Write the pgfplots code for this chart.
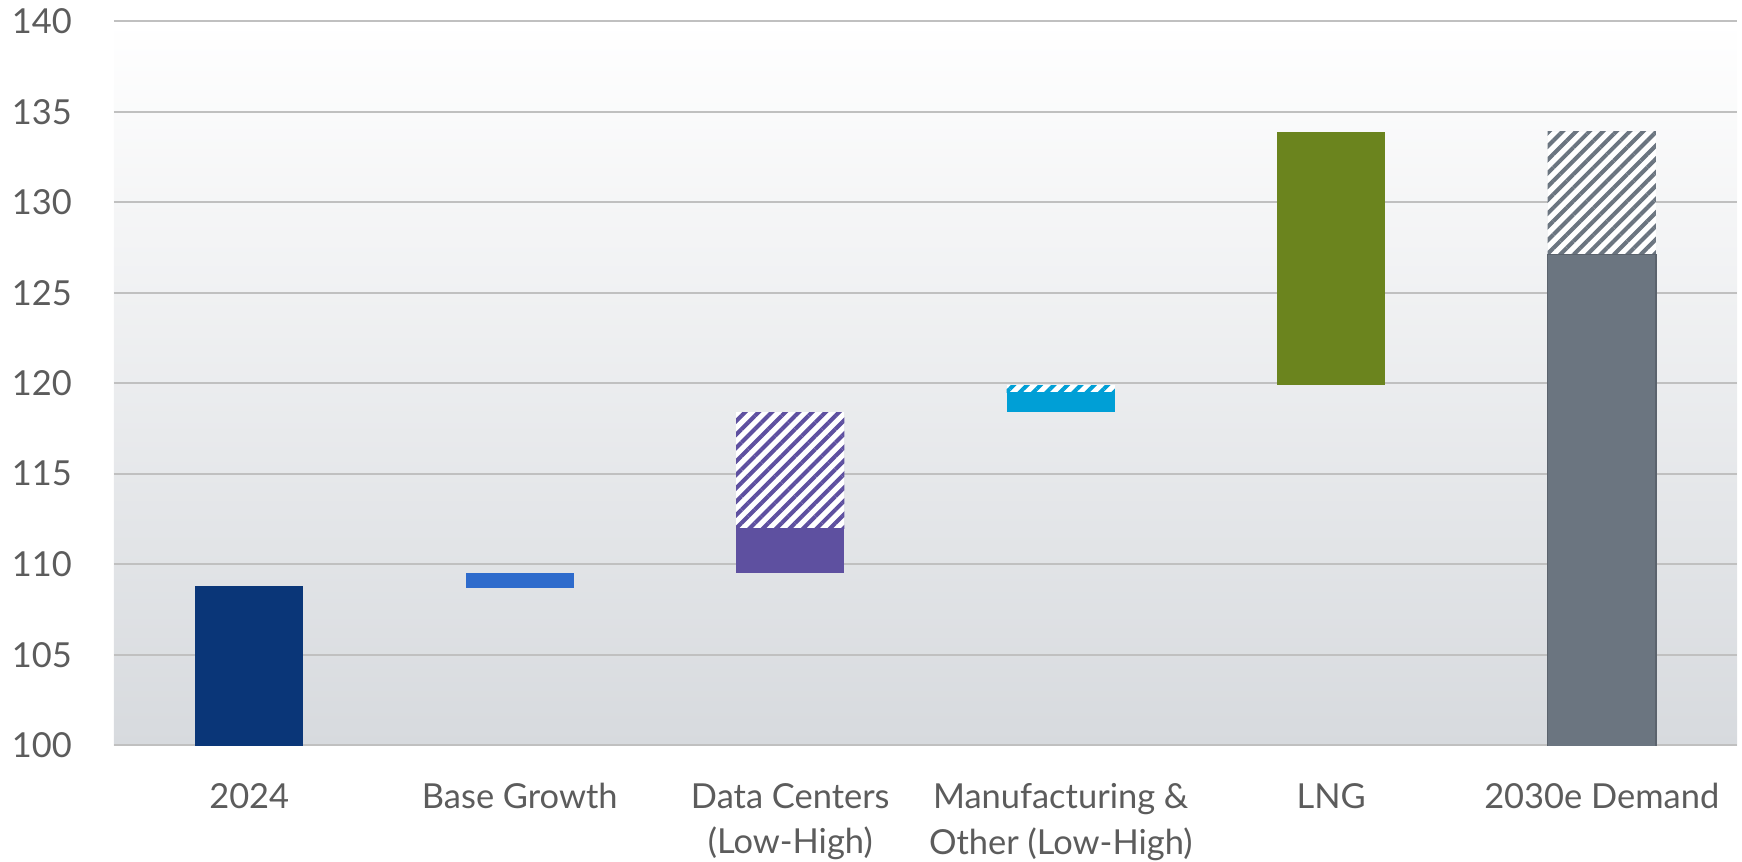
\documentclass[border=0pt]{standalone}
\usepackage{pgfplots}
\pgfplotsset{compat=1.18}
\usepackage{fontspec}
\setmainfont{Lato}
\usetikzlibrary{patterns.meta}

\definecolor{navy}{RGB}{10,54,120}
\definecolor{basblue}{RGB}{46,107,204}
\definecolor{dcpurple}{RGB}{94,80,160}
\definecolor{mfcyan}{RGB}{0,159,214}
\definecolor{lnggreen}{RGB}{107,132,30}
\definecolor{totgray}{RGB}{107,117,128}
\definecolor{gridgray}{RGB}{192,192,192}
\definecolor{labelgray}{RGB}{92,92,92}
\definecolor{bgbottom}{RGB}{215,218,222}

\pgfplotsset{
  hatch/.style={fill=white, draw=none,
    postaction={pattern={Lines[angle=45,distance=2.7pt,line width=1.15pt]}, pattern color=#1}},
  solid/.style={fill=#1, draw=none},
}

\begin{document}
\begin{tikzpicture}
\begin{axis}[
  scale only axis,
  width=16.23cm, height=7.24cm,
  ybar stacked, bar width=0.4,
  xmin=-0.5, xmax=5.5, ymin=100, ymax=140,
  ytick={100,105,...,140},
  xtick={0,...,5},
  xticklabels={2024, Base Growth, {Data Centers\\(Low-High)}, {Manufacturing \&\\Other (Low-High)}, LNG, 2030e Demand},
  ymajorgrids, grid style={color=gridgray, line width=0.45pt},
  axis line style={draw=none},
  major tick length=0pt,
  tick label style={font=\fontsize{9.8}{13.0}\selectfont, text=labelgray, inner sep=0pt},
  xticklabel style={align=center, yshift=-10.6pt},
  yticklabel style={xshift=-11.8pt},
  /pgf/number format/assume math mode=true,
  axis background/.style={shade, top color=white, bottom color=bgbottom},
]
% invisible base
\addplot[draw=none, fill=none] coordinates {(0,0) (1,108.7) (2,109.5) (3,118.4) (4,119.9) (5,0)};
% 2024
\addplot[solid=navy] coordinates {(0,108.8) (1,0) (2,0) (3,0) (4,0) (5,0)};
% base growth
\addplot[solid=basblue] coordinates {(0,0) (1,0.8) (2,0) (3,0) (4,0) (5,0)};
% data centers low / high
\addplot[solid=dcpurple] coordinates {(0,0) (1,0) (2,2.5) (3,0) (4,0) (5,0)};
\addplot[hatch=dcpurple] coordinates {(0,0) (1,0) (2,6.4) (3,0) (4,0) (5,0)};
% manufacturing low / high
\addplot[solid=mfcyan] coordinates {(0,0) (1,0) (2,0) (3,1.1) (4,0) (5,0)};
\addplot[hatch=mfcyan] coordinates {(0,0) (1,0) (2,0) (3,0.4) (4,0) (5,0)};
% LNG
\addplot[solid=lnggreen] coordinates {(0,0) (1,0) (2,0) (3,0) (4,14.0) (5,0)};
% 2030e low / high
\addplot[fill=totgray, draw=totgray!85!black, line width=0.4pt] coordinates {(0,0) (1,0) (2,0) (3,0) (4,0) (5,127.1)};
\addplot[hatch=totgray] coordinates {(0,0) (1,0) (2,0) (3,0) (4,0) (5,6.8)};
\coordinate (ll) at (rel axis cs:0,0);
\coordinate (ur) at (rel axis cs:1,1);
\end{axis}
% page margins round the plot area
\path (ll) ++(-1.14cm,-1.167cm);
\path (ur) ++(0.05cm,0.213cm);
\end{tikzpicture}
\end{document}
